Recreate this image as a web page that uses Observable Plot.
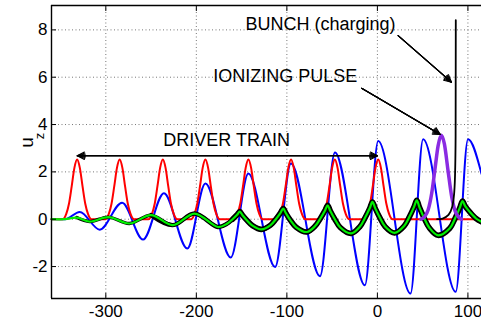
<!DOCTYPE html>
<html><head><meta charset="utf-8">
<script src="https://cdn.jsdelivr.net/npm/d3@7"></script>
<script src="https://cdn.jsdelivr.net/npm/@observablehq/plot@0.6"></script>
<style>html,body{margin:0;padding:0;background:#fff;overflow:hidden;}</style>
</head><body><div id="chart"></div>
<script>
// ---- axes ----
const xTicks = [-300, -200, -100, 0, 100];
const yTicks = [-2, 0, 2, 4, 6, 8];
const xDomain = [-360, 115];
const yDomain = [-3.35, 9.03];

// ---- red driver pulses (centres, peak, common pulse profile) ----
const redCenters = [-331.7, -284.7, -237, -190, -142.5, -95.4, -47, 0.9];
const redPeak = 2.52;
const pulseOffsets = [-16, -12, -9, -6, -3, 0, 3, 6, 9, 12, 16];
const pulseShape   = [0, 0.09, 0.26, 0.55, 0.86, 1, 0.86, 0.55, 0.26, 0.09, 0];

// ---- blue wake field ----
const blueX = [-360, -345, -328.8, -306.7, -282, -258.9, -235.8, -210, -190, -162, -142.5, -113, -95.5, -63.4, -46.9, -13.8, 0.9, 36.6, 50.5, 86.5, 100.1, 115];
const blueY = [0, 0, 0.31, -0.44, 0.7, -0.86, 1.1, -1.24, 1.51, -1.62, 1.93, -2.02, 2.35, -2.41, 2.82, -2.79, 3.3, -3.14, 3.38, -3.07, 3.38, 1.92];

// ---- green (and black particle band) ----
const greenX = [-360, -345, -332, -318, -297, -274, -250, -226, -202, -176,
  -166, -160, -155, -152, -149, -144, -138, -128,
  -118, -112, -107, -104, -101, -96, -90, -78,
  -69, -63, -58, -55, -52, -47, -41, -29,
  -19.5, -13.5, -8.5, -5.5, -2.5, 2.5, 8.5, 19,
  29.5, 35.5, 40.5, 43.5, 46.5, 51.5, 57.5, 67,
  80, 86, 91, 94, 97, 102, 109, 115];
const greenY = [0, 0, 0.07, -0.10, 0.09, -0.18, 0.17, -0.25, 0.24, -0.33,
  -0.19, 0.0, 0.19, 0.32, 0.17, -0.05, -0.27, -0.43,
  -0.25, 0.01, 0.27, 0.45, 0.25, -0.05, -0.33, -0.54,
  -0.30, 0.03, 0.36, 0.59, 0.35, 0.0, -0.35, -0.60,
  -0.32, 0.07, 0.46, 0.73, 0.47, 0.08, -0.31, -0.58,
  -0.29, 0.11, 0.52, 0.80, 0.50, 0.06, -0.37, -0.68,
  -0.38, 0.05, 0.48, 0.77, 0.55, 0.31, 0.03, -0.11];

// ---- purple ionizing pulse ----
const purpleX = [48, 52, 56, 60, 64, 67, 70.7, 74, 78, 82, 86, 90, 93];
const purpleY = [0, 0.10, 0.39, 1.1, 2.24, 3.09, 3.55, 3.18, 2.06, 0.97, 0.33, 0.08, 0];

// ---- black bunch ----
const bunchX = [66, 72, 78.2, 82.6, 84.8, 85.9, 86.4, 86.6];
const bunchY = [0, 0.03, 0.17, 0.52, 1.09, 2.07, 3.5, 8.41];

// ---- annotations ----
const noteText = ["DRIVER TRAIN", "IONIZING PULSE", "BUNCH (charging)"];
const noteX = [-236.6, -181.4, -145.7];
const noteY = [3.32, 6.06, 8.22];
const arrowX1 = [-165.7, -165.7, -17.4, 22.9];
const arrowY1 = [2.68, 2.68, 5.53, 7.76];
const arrowX2 = [-331.6, 0.2, 69.5, 81.8];
const arrowY2 = [2.68, 2.68, 3.58, 5.79];
const yLabelMain = "u", yLabelSub = "z";

// ---- build tables ----
const red = [{x: xDomain[0], y: 0}];
redCenters.forEach(c => pulseOffsets.forEach((o, i) => red.push({x: c + o, y: redPeak * pulseShape[i]})));
red.push({x: xDomain[1], y: 0});
const blue = blueX.map((x, i) => ({x, y: blueY[i]}));
const green = greenX.map((x, i) => ({x, y: greenY[i]}));
const purple = purpleX.map((x, i) => ({x, y: purpleY[i]}));
const bunch = bunchX.map((x, i) => ({x, y: bunchY[i]}));
const notes = noteText.map((t, i) => ({t, x: noteX[i], y: noteY[i]}));
const arrows = arrowX1.map((x1, i) => ({x1, y1: arrowY1[i], x2: arrowX2[i], y2: arrowY2[i]}));

const font = "'Liberation Sans', Arial, Helvetica, sans-serif";
const hyphen = d => (d < 0 ? "-" + Math.abs(d) : String(d));
const arrowLayers = [55, 40, 25, 10].map(a => Plot.arrow(arrows, {x1: "x1", y1: "y1", x2: "x2", y2: "y2", stroke: "black", strokeWidth: 1.1, headAngle: a, headLength: 11}));

const chart = Plot.plot({
  width: 481, height: 322,
  marginLeft: 51, marginRight: 0, marginTop: 5, marginBottom: 24,
  style: {fontFamily: font, background: "white", color: "black", overflow: "hidden"},
  x: {domain: xDomain, label: null},
  y: {domain: yDomain, label: null},
  marks: [
    Plot.gridX(xTicks, {stroke: "#777", strokeOpacity: 1, strokeDasharray: "1,2.5"}),
    Plot.gridY(yTicks, {stroke: "#777", strokeOpacity: 1, strokeDasharray: "1,2.5"}),
    Plot.line(blue, {x: "x", y: "y", stroke: "#0000ff", strokeWidth: 2, curve: "monotone-x"}),
    Plot.line(red, {x: "x", y: "y", stroke: "#ff0000", strokeWidth: 2, curve: "monotone-x"}),
    Plot.line(green.filter(d => d.x >= -342), {x: "x", y: "y", stroke: "black", strokeWidth: 3.4, curve: "catmull-rom"}),
    Plot.line(green.filter(d => d.x >= -260), {x: "x", y: "y", stroke: "black", strokeWidth: 4.4, curve: "catmull-rom"}),
    Plot.line(green.filter(d => d.x >= -160), {x: "x", y: "y", stroke: "black", strokeWidth: 5.6, curve: "catmull-rom"}),
    Plot.line(green, {x: "x", y: "y", stroke: "#00f000", strokeWidth: 2.2, curve: "catmull-rom"}),
    Plot.line(purple, {x: "x", y: "y", stroke: "#8a2be2", strokeWidth: 3.5, curve: "monotone-x"}),
    Plot.line(bunch, {x: "x", y: "y", stroke: "black", strokeWidth: 1.8, curve: "monotone-x"}),
    ...arrowLayers,
    Plot.text(notes, {x: "x", y: "y", text: "t", textAnchor: "start", lineAnchor: "middle", fontSize: 18, fill: "black"}),
    Plot.text([yLabelMain], {text: d => d, frameAnchor: "left", y: 3.02, dx: -24.5, rotate: -90, fontSize: 19, fill: "black"}),
    Plot.text([yLabelSub], {text: d => d, frameAnchor: "left", y: 3.38, dx: -12, rotate: -90, fontSize: 13, fill: "black"}),
    Plot.ruleX([xDomain[0]], {stroke: "black", strokeWidth: 1.4}),
    Plot.ruleY([yDomain[0], yDomain[1]], {stroke: "black", strokeWidth: 1.4}),
    Plot.axisX(xTicks, {anchor: "bottom", tickSize: 5, dy: -5, tickFormat: () => "", label: null}),
    Plot.axisX(xTicks, {anchor: "top", tickSize: 5, dy: 5, tickFormat: () => "", label: null}),
    Plot.axisY(yTicks, {anchor: "left", tickSize: 5, dx: 5, tickFormat: () => "", label: null}),
    Plot.axisX(xTicks, {anchor: "bottom", tickSize: 0, tickPadding: 6, fontSize: 17, tickFormat: hyphen, label: null}),
    Plot.axisY(yTicks, {anchor: "left", tickSize: 0, tickPadding: 4, fontSize: 17, tickFormat: hyphen, label: null})
  ]
});
document.getElementById("chart").appendChild(chart);
</script>
</body></html>
